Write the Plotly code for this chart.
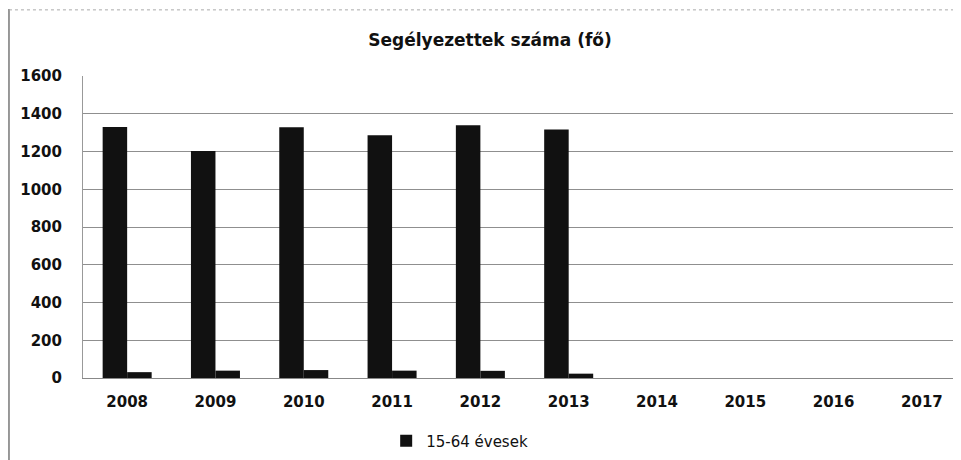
import plotly.graph_objects as go

years = ["2008", "2009", "2010", "2011", "2012", "2013", "2014", "2015", "2016", "2017"]
main_values = [1330, 1203, 1328, 1286, 1339, 1316, None, None, None, None]
second_values = [31, 39, 42, 39, 38, 23, None, None, None, None]
main_name = "15-64 évesek"
title_text = "Segélyezettek száma (fő)"
y_ticks = [0, 200, 400, 600, 800, 1000, 1200, 1400, 1600]

font_family = "'DejaVu Sans', sans-serif"

fig = go.Figure()
fig.add_trace(go.Bar(x=years, y=main_values, name=main_name,
                     marker=dict(color="#111111", line=dict(width=0))))
fig.add_trace(go.Bar(x=years, y=second_values, name="", showlegend=False,
                     marker=dict(color="#111111", line=dict(width=0))))

fig.update_layout(
    width=961, height=460,
    paper_bgcolor="white", plot_bgcolor="white",
    margin=dict(l=75, r=10, t=68, b=86),
    barmode="group", bargap=0.445, bargroupgap=0,
    title=dict(text=title_text, x=0.5016, xanchor="center", y=0.930, yanchor="middle",
               font=dict(family=font_family, size=17, color="#111111", weight="bold")),
    font=dict(family=font_family, color="#111111"),
    showlegend=True,
    legend=dict(orientation="h", x=0.43, xanchor="center", y=-0.154, yanchor="top",
                font=dict(size=15, color="#111111"), itemwidth=30),
    xaxis=dict(type="category", range=[-0.5, 9.42], showgrid=False,
               showline=True, linecolor="#888888", linewidth=1,
               tickfont=dict(size=15, color="#111111", weight="bold"),
               ticks="", ticklabelstandoff=10),
    yaxis=dict(range=[0, 1600], tickvals=y_ticks, showgrid=True,
               gridcolor="#8f8f8f", gridwidth=1,
               showline=True, linecolor="#999999", linewidth=1,
               zeroline=False,
               tickfont=dict(size=15, color="#111111", weight="bold"),
               ticks="", ticklabelstandoff=17),
)

# frame of the scanned chart
fig.add_shape(type="line", xref="paper", yref="paper", x0=-0.0845, x1=-0.0845, y0=-0.3, y1=1.222,
              line=dict(color="#777777", width=1.5))
fig.add_shape(type="line", xref="paper", yref="paper", x0=-0.0845, x1=1.0, y0=1.219, y1=1.219,
              line=dict(color="#aaaaaa", width=1, dash="dot"))

fig.write_html("out.html")
